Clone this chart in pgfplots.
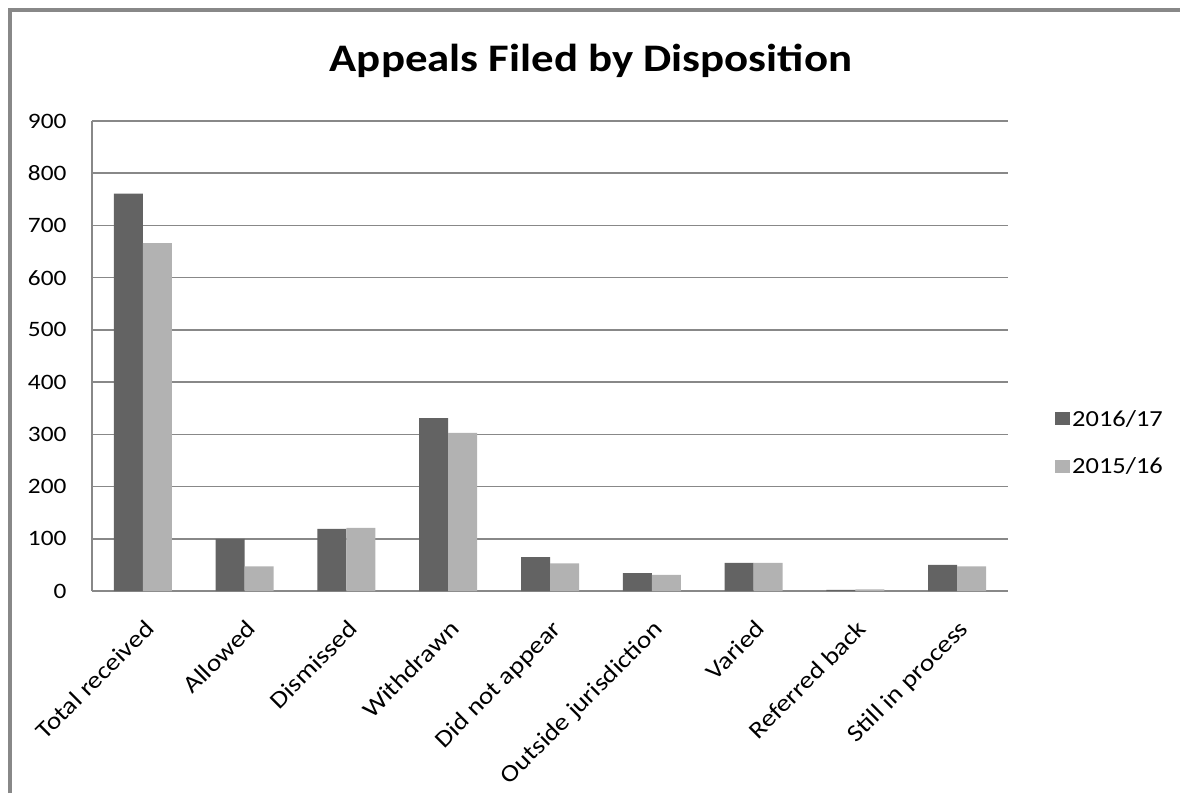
\documentclass[border=0pt]{standalone}
\usepackage{pgfplots}
\pgfplotsset{compat=1.18}
\usepackage{fontspec}
\setmainfont{Carlito}[FakeStretch=1.15]
\definecolor{darkbar}{HTML}{636363}
\definecolor{lightbar}{HTML}{B2B2B2}
\definecolor{gridc}{HTML}{888888}
\begin{document}
\begin{tikzpicture}[x=1pt,y=1pt]
\begin{axis}[
  at={(92pt,202pt)}, anchor=south west,
  scale only axis, width=916pt, height=470pt,
  ybar=0pt, bar width=29pt,
  xmin=-0.5, xmax=8.5, ymin=0, ymax=900,
  ytick={0,100,...,900},
  xtick=data,
  xticklabels={Total received,Allowed,Dismissed,Withdrawn,Did not appear,Outside jurisdiction,Varied,Referred back,Still in process},
  x tick label style={rotate=45, anchor=north east, font=\fontsize{24}{28}\selectfont, inner sep=2pt, yshift=-18pt, xshift=-17pt},
  y tick label style={font=\fontsize{22}{26}\selectfont},
  /pgf/number format/assume math mode=true,
  ymajorgrids, grid style={gridc, line width=1.5pt},
  axis x line*=bottom, axis y line*=left,
  axis line style={gridc, line width=1.5pt},
  x axis line style={-}, y axis line style={-},
  major tick length=0pt,
  xtick style={draw=none},
  ytick style={draw=none},
  yticklabel style={xshift=-22pt},
  legend style={at={(1.048,0.315)}, anchor=west, draw=none, fill=none,
    font=\fontsize{23}{27}\selectfont, row sep=26pt},
  legend cell align=left,
  legend image code/.code={\fill[#1] (0pt,-6pt) rectangle (15pt,7pt);},
]
\addplot[fill=darkbar, draw=none] coordinates {(0,761) (1,100) (2,119) (3,331) (4,65) (5,34) (6,54) (7,2) (8,50)};
\addplot[fill=lightbar, draw=none] coordinates {(0,666) (1,47) (2,121) (3,303) (4,53) (5,31) (6,54) (7,3) (8,47)};
\legend{2016/17,2015/16}
\end{axis}
\draw[gridc, line width=4pt] (10pt,0pt) -- (10pt,783pt) -- (1180pt,783pt);
\node[font=\bfseries\fontsize{39}{44}\selectfont, anchor=base] at (591pt,721pt) {Appeals Filed by Disposition};
\pgfresetboundingbox
\path[use as bounding box] (0pt,0pt) rectangle (1180pt,793pt);
\end{tikzpicture}
\end{document}
